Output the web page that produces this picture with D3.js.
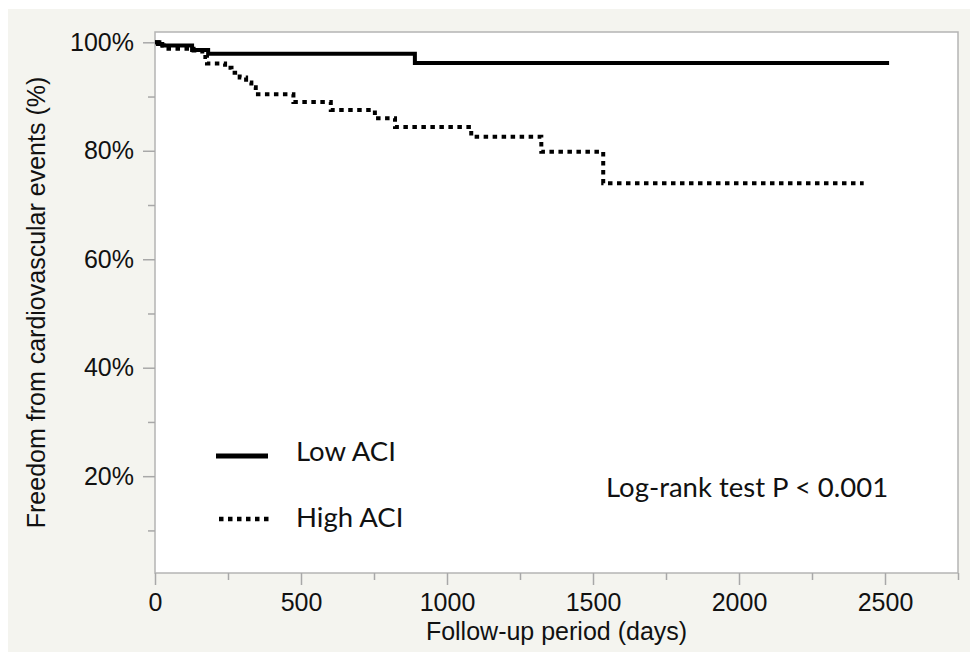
<!DOCTYPE html>
<html>
<head>
<meta charset="utf-8">
<script src="https://cdn.jsdelivr.net/npm/d3@7"></script>
<style>
  body { margin: 0; background: #fff; }
  .tick text { font-family: "Liberation Sans", Arial, sans-serif; font-size: 25px; fill: #111; }
  .tick line { stroke: #a8a8a8; stroke-width: 1.5; }
  .note { font-family: Lato, "Open Sans", sans-serif; fill: #111; }
</style>
</head>
<body>
<div id="chart"></div>
<script>
// data (days, survival %)
const lowDays  = [0, 10, 25, 127, 182, 890, 2514];
const lowSurv  = [100, 99.7, 99.4, 98.6, 97.9, 96.2, 96.2];

const highDays = [0, 15, 30, 132, 162, 178, 240, 262, 290, 312, 330, 345, 474, 602, 753, 822, 1083, 1323, 1535, 2427];
const highSurv = [100, 99.4, 98.8, 98.5, 97.3, 96.1, 95.3, 94.4, 93.5, 92.6, 91.7, 90.4, 89.0, 87.5, 86.0, 84.4, 82.6, 79.8, 74.0, 74.0];

const xMajor = [0, 500, 1000, 1500, 2000, 2500];
const xMinor = [250, 750, 1250, 1750, 2250, 2750];
const yMajor = [20, 40, 60, 80, 100];
const yMinor = [10, 30, 50, 70, 90];

const seriesNames = ["Low ACI", "High ACI"];

// Step 1: chart size
const svgWidth = 978;
const svgHeight = 661;
const margin = { top: 32, right: 20, bottom: 88, left: 155 };
const width = 958 - margin.left;
const height = 573 - margin.top;

const svg = d3.select("#chart")
    .append("svg")
    .attr("width", svgWidth)
    .attr("height", svgHeight);

// light panel behind everything
svg.append("rect")
    .attr("x", 8).attr("y", 9)
    .attr("width", 962).attr("height", 643)
    .attr("fill", "#f4f4ef");

const chartGroup = svg.append("g")
    .attr("transform", `translate(${margin.left}, ${margin.top})`);

// scales
const x = d3.scaleLinear().domain([0, 2750]).range([0, width]);
const y = d3.scaleLinear().domain([2.15, 101.9]).range([height, 0]);

// plot area
chartGroup.append("rect")
    .attr("width", width)
    .attr("height", height)
    .attr("fill", "#fff")
    .attr("stroke", "#b4b4b4")
    .attr("stroke-width", 1.5);

// axes: major + minor ticks
const xAxis = chartGroup.append("g")
    .attr("transform", `translate(0, ${height})`)
    .call(d3.axisBottom(x).tickValues(xMajor).tickSize(12).tickPadding(8).tickFormat(d3.format("d")));
chartGroup.append("g")
    .attr("transform", `translate(0, ${height})`)
    .call(d3.axisBottom(x).tickValues(xMinor).tickSize(7).tickFormat(""));

const yAxis = chartGroup.append("g")
    .call(d3.axisLeft(y).tickValues(yMajor).tickSize(12).tickPadding(9).tickFormat(d => d + "%"));
chartGroup.append("g")
    .call(d3.axisLeft(y).tickValues(yMinor).tickSize(7).tickFormat(""));

chartGroup.selectAll(".domain").remove();
xAxis.selectAll(".tick text").attr("dy", "0.71em");

// axis titles
svg.append("text")
    .attr("x", margin.left + width / 2)
    .attr("y", 640)
    .attr("text-anchor", "middle")
    .style("font-family", "Liberation Sans, Arial, sans-serif")
    .style("font-size", "25px")
    .attr("fill", "#111")
    .text("Follow-up period (days)");

svg.append("text")
    .attr("transform", "rotate(-90)")
    .attr("x", -(margin.top + height / 2))
    .attr("y", 45)
    .attr("text-anchor", "middle")
    .style("font-family", "Liberation Sans, Arial, sans-serif")
    .style("font-size", "25px")
    .attr("fill", "#111")
    .text("Freedom from cardiovascular events (%)");

// curves
const line = d3.line()
    .x(d => x(d[0]))
    .y(d => y(d[1]))
    .curve(d3.curveStepAfter);

const lowData = lowDays.map((d, i) => [d, lowSurv[i]]);
const highData = highDays.map((d, i) => [d, highSurv[i]]);

chartGroup.append("path")
    .datum(highData)
    .attr("d", line)
    .attr("fill", "none")
    .attr("stroke", "#000")
    .attr("stroke-width", 4)
    .attr("stroke-dasharray", "4.5,4.5");

chartGroup.append("path")
    .datum(lowData)
    .attr("d", line)
    .attr("fill", "none")
    .attr("stroke", "#000")
    .attr("stroke-width", 4);

// legend
const legend = svg.append("g");
legend.append("line")
    .attr("x1", 216).attr("x2", 268)
    .attr("y1", 456).attr("y2", 456)
    .attr("stroke", "#000").attr("stroke-width", 5);
legend.append("line")
    .attr("x1", 219).attr("x2", 271)
    .attr("y1", 519).attr("y2", 519)
    .attr("stroke", "#000").attr("stroke-width", 4.5)
    .attr("stroke-dasharray", "4.5,4.5");

legend.append("text").attr("class", "note")
    .attr("x", 296).attr("y", 461)
    .style("font-size", "27.5px")
    .text(seriesNames[0]);
legend.append("text").attr("class", "note")
    .attr("x", 296).attr("y", 527)
    .style("font-size", "27.5px")
    .text(seriesNames[1]);

svg.append("text").attr("class", "note")
    .attr("x", 606).attr("y", 497)
    .style("font-size", "27.5px")
    .text("Log-rank test P < 0.001");
</script>
</body>
</html>
